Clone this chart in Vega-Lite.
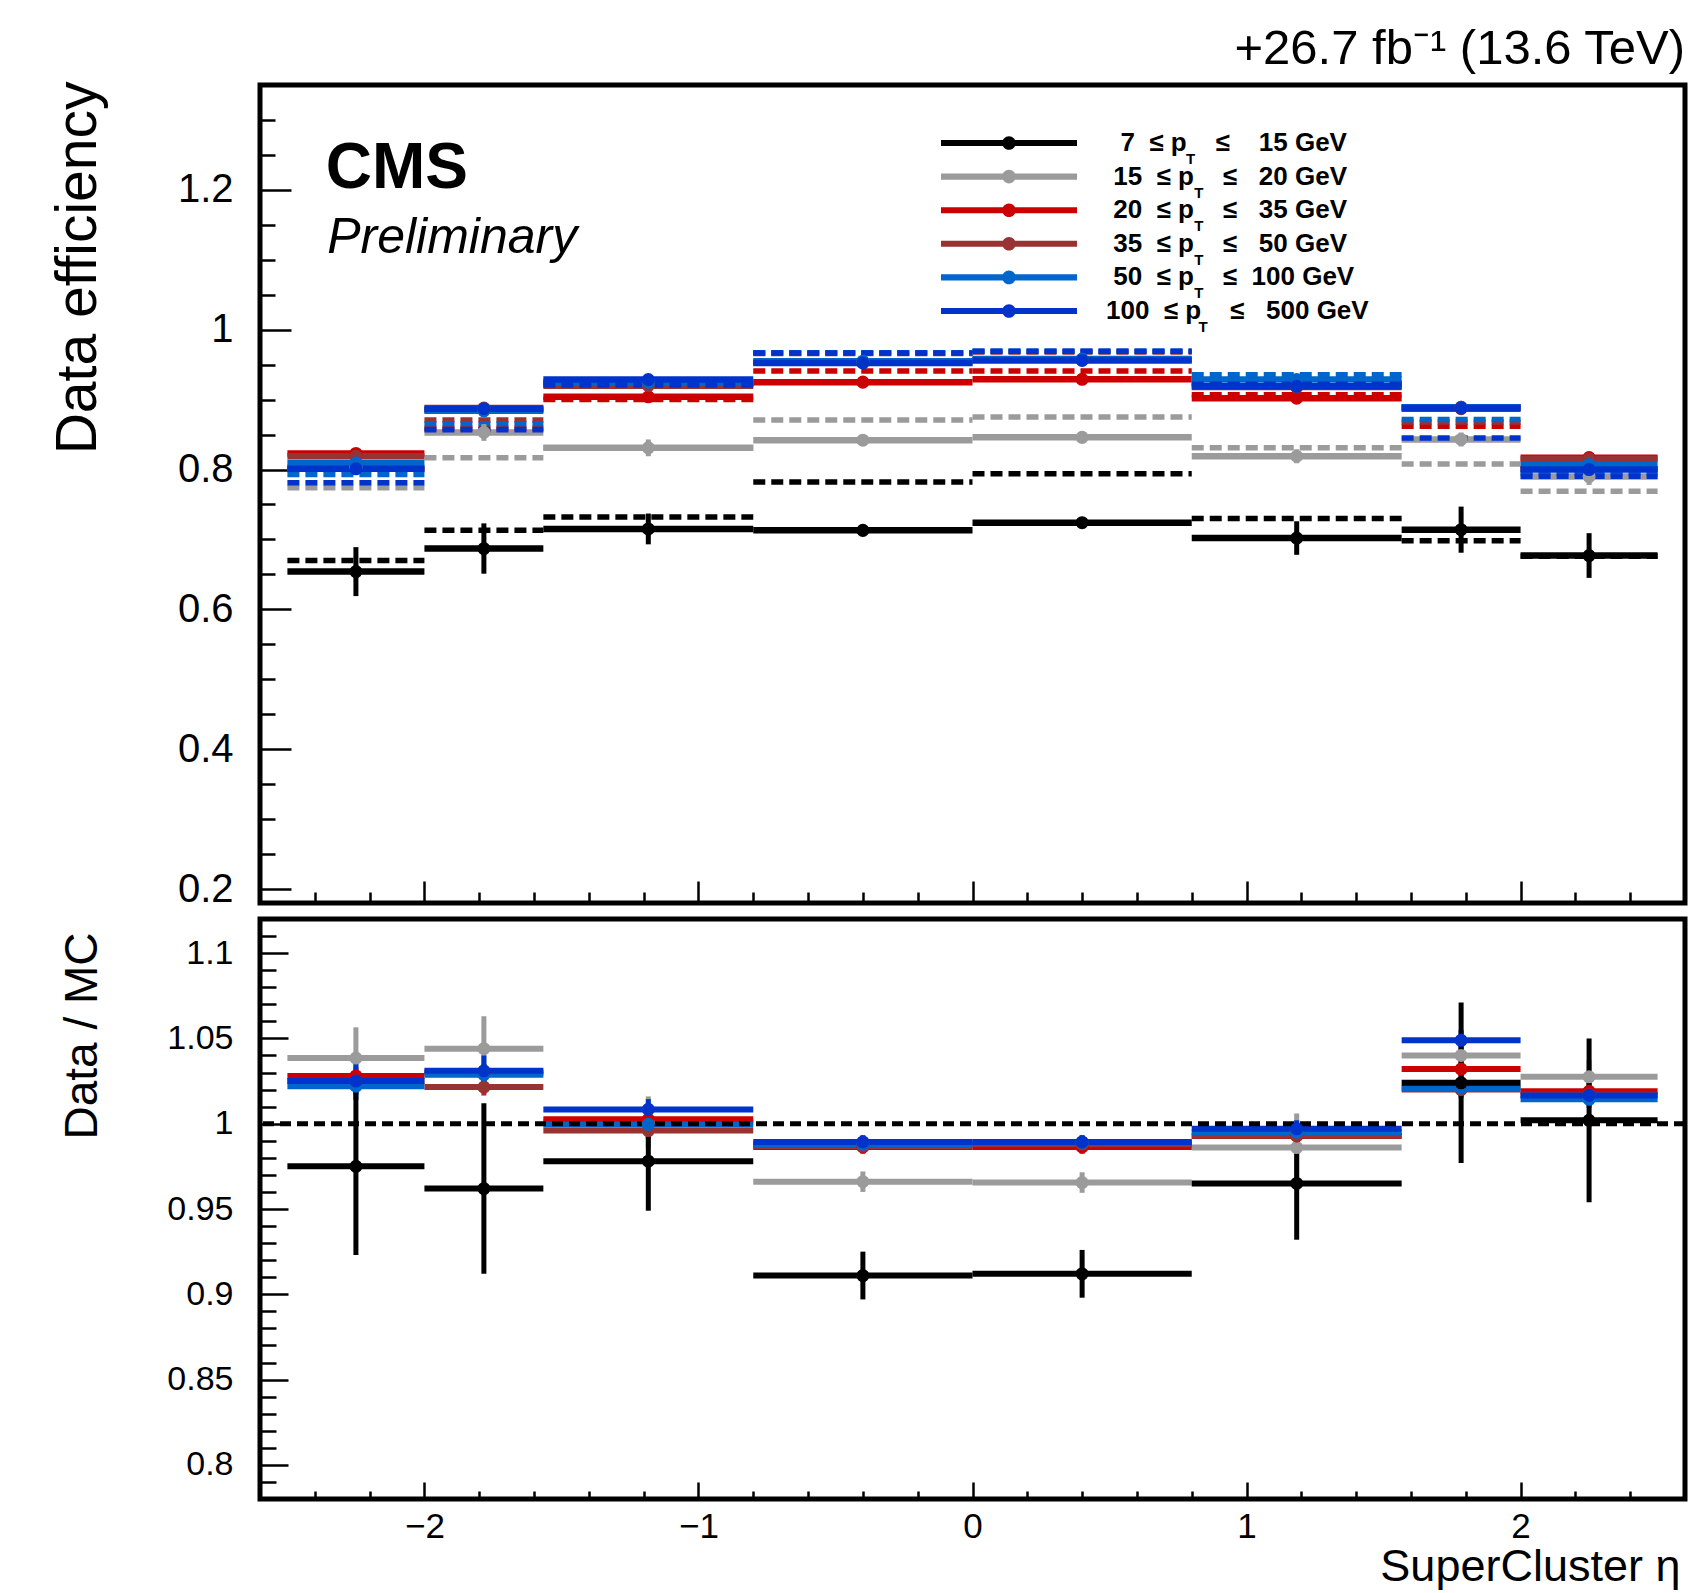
{
  "$schema": "https://vega.github.io/schema/vega-lite/v6.json",
  "autosize": {"type": "pad"},
  "padding": {"left": 46, "top": 22, "right": 0, "bottom": 0},
  "background": "white",
  "config": {
    "font": "Liberation Sans",
    "view": {"stroke": "black", "strokeWidth": 5},
    "axis": {"domain": false, "grid": false, "labelColor": "black", "titleColor": "black", "tickColor": "black", "tickWidth": 2.5, "labelFont": "Liberation Sans", "titleFont": "Liberation Sans", "titleFontWeight": "normal", "labelFlush": false, "labelOverlap": false, "labelBound": false}
  },
  "datasets": {
    "eff": [
      {"s":"15-20","k":"MC","lo":-2.5,"hi":-2,"eta":-2.25,"v":0.774,"e":0},
      {"s":"15-20","k":"MC","lo":-2,"hi":-1.566,"eta":-1.783,"v":0.817,"e":0},
      {"s":"15-20","k":"MC","lo":-1.566,"hi":-0.8,"eta":-1.183,"v":0.831,"e":0},
      {"s":"15-20","k":"MC","lo":-0.8,"hi":0,"eta":-0.4,"v":0.871,"e":0},
      {"s":"15-20","k":"MC","lo":0,"hi":0.8,"eta":0.4,"v":0.875,"e":0},
      {"s":"15-20","k":"MC","lo":0.8,"hi":1.566,"eta":1.183,"v":0.831,"e":0},
      {"s":"15-20","k":"MC","lo":1.566,"hi":2,"eta":1.783,"v":0.808,"e":0},
      {"s":"15-20","k":"MC","lo":2,"hi":2.5,"eta":2.25,"v":0.769,"e":0},
      {"s":"15-20","k":"Data","lo":-2.5,"hi":-2,"eta":-2.25,"v":0.803,"e":0.01},
      {"s":"15-20","k":"Data","lo":-2,"hi":-1.566,"eta":-1.783,"v":0.853,"e":0.012},
      {"s":"15-20","k":"Data","lo":-1.566,"hi":-0.8,"eta":-1.183,"v":0.831,"e":0.012},
      {"s":"15-20","k":"Data","lo":-0.8,"hi":0,"eta":-0.4,"v":0.842,"e":0.005},
      {"s":"15-20","k":"Data","lo":0,"hi":0.8,"eta":0.4,"v":0.846,"e":0.005},
      {"s":"15-20","k":"Data","lo":0.8,"hi":1.566,"eta":1.183,"v":0.819,"e":0.01},
      {"s":"15-20","k":"Data","lo":1.566,"hi":2,"eta":1.783,"v":0.843,"e":0.01},
      {"s":"15-20","k":"Data","lo":2,"hi":2.5,"eta":2.25,"v":0.790,"e":0.012},
      {"s":"20-35","k":"MC","lo":-2.5,"hi":-2,"eta":-2.25,"v":0.801,"e":0},
      {"s":"20-35","k":"MC","lo":-2,"hi":-1.566,"eta":-1.783,"v":0.859,"e":0},
      {"s":"20-35","k":"MC","lo":-1.566,"hi":-0.8,"eta":-1.183,"v":0.900,"e":0},
      {"s":"20-35","k":"MC","lo":-0.8,"hi":0,"eta":-0.4,"v":0.941,"e":0},
      {"s":"20-35","k":"MC","lo":0,"hi":0.8,"eta":0.4,"v":0.941,"e":0},
      {"s":"20-35","k":"MC","lo":0.8,"hi":1.566,"eta":1.183,"v":0.907,"e":0},
      {"s":"20-35","k":"MC","lo":1.566,"hi":2,"eta":1.783,"v":0.862,"e":0},
      {"s":"20-35","k":"MC","lo":2,"hi":2.5,"eta":2.25,"v":0.801,"e":0},
      {"s":"20-35","k":"Data","lo":-2.5,"hi":-2,"eta":-2.25,"v":0.823,"e":0.004},
      {"s":"20-35","k":"Data","lo":-2,"hi":-1.566,"eta":-1.783,"v":0.885,"e":0.004},
      {"s":"20-35","k":"Data","lo":-1.566,"hi":-0.8,"eta":-1.183,"v":0.904,"e":0.004},
      {"s":"20-35","k":"Data","lo":-0.8,"hi":0,"eta":-0.4,"v":0.925,"e":0.003},
      {"s":"20-35","k":"Data","lo":0,"hi":0.8,"eta":0.4,"v":0.929,"e":0.003},
      {"s":"20-35","k":"Data","lo":0.8,"hi":1.566,"eta":1.183,"v":0.902,"e":0.004},
      {"s":"20-35","k":"Data","lo":1.566,"hi":2,"eta":1.783,"v":0.889,"e":0.004},
      {"s":"20-35","k":"Data","lo":2,"hi":2.5,"eta":2.25,"v":0.817,"e":0.004},
      {"s":"35-50","k":"MC","lo":-2.5,"hi":-2,"eta":-2.25,"v":0.800,"e":0},
      {"s":"35-50","k":"MC","lo":-2,"hi":-1.566,"eta":-1.783,"v":0.871,"e":0},
      {"s":"35-50","k":"MC","lo":-1.566,"hi":-0.8,"eta":-1.183,"v":0.923,"e":0},
      {"s":"35-50","k":"MC","lo":-0.8,"hi":0,"eta":-0.4,"v":0.966,"e":0},
      {"s":"35-50","k":"MC","lo":0,"hi":0.8,"eta":0.4,"v":0.968,"e":0},
      {"s":"35-50","k":"MC","lo":0.8,"hi":1.566,"eta":1.183,"v":0.924,"e":0},
      {"s":"35-50","k":"MC","lo":1.566,"hi":2,"eta":1.783,"v":0.868,"e":0},
      {"s":"35-50","k":"MC","lo":2,"hi":2.5,"eta":2.25,"v":0.800,"e":0},
      {"s":"35-50","k":"Data","lo":-2.5,"hi":-2,"eta":-2.25,"v":0.819,"e":0.004},
      {"s":"35-50","k":"Data","lo":-2,"hi":-1.566,"eta":-1.783,"v":0.888,"e":0.004},
      {"s":"35-50","k":"Data","lo":-1.566,"hi":-0.8,"eta":-1.183,"v":0.920,"e":0.004},
      {"s":"35-50","k":"Data","lo":-0.8,"hi":0,"eta":-0.4,"v":0.953,"e":0.003},
      {"s":"35-50","k":"Data","lo":0,"hi":0.8,"eta":0.4,"v":0.957,"e":0.003},
      {"s":"35-50","k":"Data","lo":0.8,"hi":1.566,"eta":1.183,"v":0.918,"e":0.004},
      {"s":"35-50","k":"Data","lo":1.566,"hi":2,"eta":1.783,"v":0.887,"e":0.004},
      {"s":"35-50","k":"Data","lo":2,"hi":2.5,"eta":2.25,"v":0.815,"e":0.004},
      {"s":"50-100","k":"MC","lo":-2.5,"hi":-2,"eta":-2.25,"v":0.793,"e":0},
      {"s":"50-100","k":"MC","lo":-2,"hi":-1.566,"eta":-1.783,"v":0.8655,"e":0},
      {"s":"50-100","k":"MC","lo":-1.566,"hi":-0.8,"eta":-1.183,"v":0.922,"e":0},
      {"s":"50-100","k":"MC","lo":-0.8,"hi":0,"eta":-0.4,"v":0.967,"e":0},
      {"s":"50-100","k":"MC","lo":0,"hi":0.8,"eta":0.4,"v":0.969,"e":0},
      {"s":"50-100","k":"MC","lo":0.8,"hi":1.566,"eta":1.183,"v":0.9357,"e":0},
      {"s":"50-100","k":"MC","lo":1.566,"hi":2,"eta":1.783,"v":0.8714,"e":0},
      {"s":"50-100","k":"MC","lo":2,"hi":2.5,"eta":2.25,"v":0.795,"e":0},
      {"s":"50-100","k":"Data","lo":-2.5,"hi":-2,"eta":-2.25,"v":0.8095,"e":0.004},
      {"s":"50-100","k":"Data","lo":-2,"hi":-1.566,"eta":-1.783,"v":0.884,"e":0.004},
      {"s":"50-100","k":"Data","lo":-1.566,"hi":-0.8,"eta":-1.183,"v":0.925,"e":0.004},
      {"s":"50-100","k":"Data","lo":-0.8,"hi":0,"eta":-0.4,"v":0.955,"e":0.003},
      {"s":"50-100","k":"Data","lo":0,"hi":0.8,"eta":0.4,"v":0.958,"e":0.003},
      {"s":"50-100","k":"Data","lo":0.8,"hi":1.566,"eta":1.183,"v":0.9286,"e":0.004},
      {"s":"50-100","k":"Data","lo":1.566,"hi":2,"eta":1.783,"v":0.889,"e":0.004},
      {"s":"50-100","k":"Data","lo":2,"hi":2.5,"eta":2.25,"v":0.807,"e":0.004},
      {"s":"100-500","k":"MC","lo":-2.5,"hi":-2,"eta":-2.25,"v":0.781,"e":0},
      {"s":"100-500","k":"MC","lo":-2,"hi":-1.566,"eta":-1.783,"v":0.857,"e":0},
      {"s":"100-500","k":"MC","lo":-1.566,"hi":-0.8,"eta":-1.183,"v":0.921,"e":0},
      {"s":"100-500","k":"MC","lo":-0.8,"hi":0,"eta":-0.4,"v":0.9667,"e":0},
      {"s":"100-500","k":"MC","lo":0,"hi":0.8,"eta":0.4,"v":0.969,"e":0},
      {"s":"100-500","k":"MC","lo":0.8,"hi":1.566,"eta":1.183,"v":0.922,"e":0},
      {"s":"100-500","k":"MC","lo":1.566,"hi":2,"eta":1.783,"v":0.845,"e":0},
      {"s":"100-500","k":"MC","lo":2,"hi":2.5,"eta":2.25,"v":0.7905,"e":0},
      {"s":"100-500","k":"Data","lo":-2.5,"hi":-2,"eta":-2.25,"v":0.801,"e":0.004},
      {"s":"100-500","k":"Data","lo":-2,"hi":-1.566,"eta":-1.783,"v":0.887,"e":0.004},
      {"s":"100-500","k":"Data","lo":-1.566,"hi":-0.8,"eta":-1.183,"v":0.9286,"e":0.004},
      {"s":"100-500","k":"Data","lo":-0.8,"hi":0,"eta":-0.4,"v":0.9524,"e":0.003},
      {"s":"100-500","k":"Data","lo":0,"hi":0.8,"eta":0.4,"v":0.956,"e":0.003},
      {"s":"100-500","k":"Data","lo":0.8,"hi":1.566,"eta":1.183,"v":0.919,"e":0.004},
      {"s":"100-500","k":"Data","lo":1.566,"hi":2,"eta":1.783,"v":0.888,"e":0.004},
      {"s":"100-500","k":"Data","lo":2,"hi":2.5,"eta":2.25,"v":0.800,"e":0.004},
      {"s":"7-15","k":"MC","lo":-2.5,"hi":-2,"eta":-2.25,"v":0.670,"e":0},
      {"s":"7-15","k":"MC","lo":-2,"hi":-1.566,"eta":-1.783,"v":0.713,"e":0},
      {"s":"7-15","k":"MC","lo":-1.566,"hi":-0.8,"eta":-1.183,"v":0.732,"e":0},
      {"s":"7-15","k":"MC","lo":-0.8,"hi":0,"eta":-0.4,"v":0.782,"e":0},
      {"s":"7-15","k":"MC","lo":0,"hi":0.8,"eta":0.4,"v":0.794,"e":0},
      {"s":"7-15","k":"MC","lo":0.8,"hi":1.566,"eta":1.183,"v":0.730,"e":0},
      {"s":"7-15","k":"MC","lo":1.566,"hi":2,"eta":1.783,"v":0.698,"e":0},
      {"s":"7-15","k":"MC","lo":2,"hi":2.5,"eta":2.25,"v":0.676,"e":0},
      {"s":"7-15","k":"Data","lo":-2.5,"hi":-2,"eta":-2.25,"v":0.654,"e":0.035},
      {"s":"7-15","k":"Data","lo":-2,"hi":-1.566,"eta":-1.783,"v":0.687,"e":0.036},
      {"s":"7-15","k":"Data","lo":-1.566,"hi":-0.8,"eta":-1.183,"v":0.715,"e":0.022},
      {"s":"7-15","k":"Data","lo":-0.8,"hi":0,"eta":-0.4,"v":0.713,"e":0.006},
      {"s":"7-15","k":"Data","lo":0,"hi":0.8,"eta":0.4,"v":0.724,"e":0.006},
      {"s":"7-15","k":"Data","lo":0.8,"hi":1.566,"eta":1.183,"v":0.702,"e":0.024},
      {"s":"7-15","k":"Data","lo":1.566,"hi":2,"eta":1.783,"v":0.714,"e":0.033},
      {"s":"7-15","k":"Data","lo":2,"hi":2.5,"eta":2.25,"v":0.677,"e":0.032}
    ],
    "ratio": [
      {"s":"15-20","lo":-2.5,"hi":-2,"eta":-2.25,"r":1.0385,"e":0.018},
      {"s":"15-20","lo":-2,"hi":-1.566,"eta":-1.783,"r":1.044,"e":0.019},
      {"s":"15-20","lo":-1.566,"hi":-0.8,"eta":-1.183,"r":1.001,"e":0.015},
      {"s":"15-20","lo":-0.8,"hi":0,"eta":-0.4,"r":0.966,"e":0.006},
      {"s":"15-20","lo":0,"hi":0.8,"eta":0.4,"r":0.9655,"e":0.006},
      {"s":"15-20","lo":0.8,"hi":1.566,"eta":1.183,"r":0.986,"e":0.02},
      {"s":"15-20","lo":1.566,"hi":2,"eta":1.783,"r":1.040,"e":0.01},
      {"s":"15-20","lo":2,"hi":2.5,"eta":2.25,"r":1.0275,"e":0.01},
      {"s":"20-35","lo":-2.5,"hi":-2,"eta":-2.25,"r":1.028,"e":0.005},
      {"s":"20-35","lo":-2,"hi":-1.566,"eta":-1.783,"r":1.030,"e":0.005},
      {"s":"20-35","lo":-1.566,"hi":-0.8,"eta":-1.183,"r":1.0026,"e":0.005},
      {"s":"20-35","lo":-0.8,"hi":0,"eta":-0.4,"r":0.9864,"e":0.004},
      {"s":"20-35","lo":0,"hi":0.8,"eta":0.4,"r":0.9864,"e":0.004},
      {"s":"20-35","lo":0.8,"hi":1.566,"eta":1.183,"r":0.9928,"e":0.005},
      {"s":"20-35","lo":1.566,"hi":2,"eta":1.783,"r":1.032,"e":0.005},
      {"s":"20-35","lo":2,"hi":2.5,"eta":2.25,"r":1.019,"e":0.005},
      {"s":"35-50","lo":-2.5,"hi":-2,"eta":-2.25,"r":1.025,"e":0.005},
      {"s":"35-50","lo":-2,"hi":-1.566,"eta":-1.783,"r":1.0215,"e":0.005},
      {"s":"35-50","lo":-1.566,"hi":-0.8,"eta":-1.183,"r":0.996,"e":0.005},
      {"s":"35-50","lo":-0.8,"hi":0,"eta":-0.4,"r":0.987,"e":0.004},
      {"s":"35-50","lo":0,"hi":0.8,"eta":0.4,"r":0.988,"e":0.004},
      {"s":"35-50","lo":0.8,"hi":1.566,"eta":1.183,"r":0.993,"e":0.005},
      {"s":"35-50","lo":1.566,"hi":2,"eta":1.783,"r":1.020,"e":0.005},
      {"s":"35-50","lo":2,"hi":2.5,"eta":2.25,"r":1.017,"e":0.005},
      {"s":"50-100","lo":-2.5,"hi":-2,"eta":-2.25,"r":1.022,"e":0.005},
      {"s":"50-100","lo":-2,"hi":-1.566,"eta":-1.783,"r":1.0287,"e":0.005},
      {"s":"50-100","lo":-1.566,"hi":-0.8,"eta":-1.183,"r":0.9996,"e":0.005},
      {"s":"50-100","lo":-0.8,"hi":0,"eta":-0.4,"r":0.988,"e":0.004},
      {"s":"50-100","lo":0,"hi":0.8,"eta":0.4,"r":0.989,"e":0.004},
      {"s":"50-100","lo":0.8,"hi":1.566,"eta":1.183,"r":0.995,"e":0.005},
      {"s":"50-100","lo":1.566,"hi":2,"eta":1.783,"r":1.021,"e":0.005},
      {"s":"50-100","lo":2,"hi":2.5,"eta":2.25,"r":1.0143,"e":0.005},
      {"s":"100-500","lo":-2.5,"hi":-2,"eta":-2.25,"r":1.025,"e":0.011},
      {"s":"100-500","lo":-2,"hi":-1.566,"eta":-1.783,"r":1.031,"e":0.009},
      {"s":"100-500","lo":-1.566,"hi":-0.8,"eta":-1.183,"r":1.0084,"e":0.006},
      {"s":"100-500","lo":-0.8,"hi":0,"eta":-0.4,"r":0.9893,"e":0.004},
      {"s":"100-500","lo":0,"hi":0.8,"eta":0.4,"r":0.9893,"e":0.004},
      {"s":"100-500","lo":0.8,"hi":1.566,"eta":1.183,"r":0.997,"e":0.005},
      {"s":"100-500","lo":1.566,"hi":2,"eta":1.783,"r":1.0489,"e":0.006},
      {"s":"100-500","lo":2,"hi":2.5,"eta":2.25,"r":1.0166,"e":0.006},
      {"s":"7-15","lo":-2.5,"hi":-2,"eta":-2.25,"r":0.975,"e":0.052},
      {"s":"7-15","lo":-2,"hi":-1.566,"eta":-1.783,"r":0.962,"e":0.05},
      {"s":"7-15","lo":-1.566,"hi":-0.8,"eta":-1.183,"r":0.978,"e":0.029},
      {"s":"7-15","lo":-0.8,"hi":0,"eta":-0.4,"r":0.911,"e":0.014},
      {"s":"7-15","lo":0,"hi":0.8,"eta":0.4,"r":0.912,"e":0.014},
      {"s":"7-15","lo":0.8,"hi":1.566,"eta":1.183,"r":0.965,"e":0.033},
      {"s":"7-15","lo":1.566,"hi":2,"eta":1.783,"r":1.024,"e":0.047},
      {"s":"7-15","lo":2,"hi":2.5,"eta":2.25,"r":1.002,"e":0.048}
    ]
  },
  "spacing": 4,
  "resolve": {"scale": {"color": "independent", "stroke": "independent", "fill": "independent", "shape": "independent", "strokeDash": "independent", "strokeWidth": "independent"}},
  "vconcat": [
    {
      "width": 1425,
      "height": 818,
      "data": {"name": "eff"},
      "title": {"text": "+26.7 fb⁻¹ (13.6 TeV)", "anchor": "end", "frame": "group", "fontSize": 49, "fontWeight": "normal", "font": "Liberation Sans", "color": "black", "baseline": "alphabetic", "offset": -32},
      "layer": [
        {
          "mark": {"type": "rule"},
          "encoding": {
            "x": {"field": "lo", "type": "quantitative", "title": null, "scale": {"domain": [-2.6, 2.6], "nice": false, "zero": false},
              "axis": {"orient": "bottom", "title": null, "labels": false, "labelOverlap": false, "tickCount": 200,
                "values": [-2.4,-2.2,-2,-1.8,-1.6,-1.4,-1.2,-1,-0.8,-0.6,-0.4,-0.2,0,0.2,0.4,0.6,0.8,1,1.2,1.4,1.6,1.8,2,2.2,2.4],
                "tickSize": {"condition": {"test": "abs(datum.value - round(datum.value)) < 0.001", "value": -22}, "value": -11}}},
            "x2": {"field": "hi"},
            "y": {"field": "v", "type": "quantitative", "title": "Data efficiency", "scale": {"domain": [0.18, 1.35], "nice": false, "zero": false},
              "axis": {"orient": "left", "labelOverlap": false, "tickCount": 200,
                "values": [0.2,0.25,0.3,0.35,0.4,0.45,0.5,0.55,0.6,0.65,0.7,0.75,0.8,0.85,0.9,0.95,1,1.05,1.1,1.15,1.2,1.25,1.3],
                "labelExpr": "abs(datum.value*5 - round(datum.value*5)) < 0.001 ? format(datum.value, '~g') : ''",
                "tickSize": {"condition": {"test": "abs(datum.value*5 - round(datum.value*5)) < 0.001", "value": -31}, "value": -15},
                "labelFontSize": 40, "labelPadding": 58,
                "titleFontSize": 57, "titleAngle": 270, "titleAlign": "right", "titleAnchor": "end", "titleBaseline": "alphabetic", "titleX": -165, "titleY": -4}},
            "stroke": {"field": "s", "type": "nominal", "legend": null,
              "scale": {"domain": ["7-15","15-20","20-35","35-50","50-100","100-500","~"], "range": ["#000000","#9b9b9b","#cc0000","#993333","#0066cc","#0033cc","#ffffff"]}},
            "strokeDash": {"field": "k", "type": "nominal", "legend": null, "scale": {"domain": ["Data","MC"], "range": [[1,0],[12,6]]}},
            "strokeWidth": {"field": "k", "type": "ordinal", "legend": null, "scale": {"domain": ["Data","MC"], "range": [6.5,5.5]}}
          }
        },
        {
          "transform": [{"filter": "datum.k == 'Data'"}],
          "mark": {"type": "errorbar", "thickness": 5, "ticks": false},
          "encoding": {
            "x": {"field": "eta", "type": "quantitative", "title": null},
            "y": {"field": "v", "type": "quantitative", "title": "Data efficiency"},
            "yError": {"field": "e"},
            "color": {"field": "s", "type": "nominal", "legend": null,
              "scale": {"domain": ["7-15","15-20","20-35","35-50","50-100","100-500","~"], "range": ["#000000","#9b9b9b","#cc0000","#993333","#0066cc","#0033cc","#ffffff"]}}
          }
        },
        {
          "transform": [{"filter": "datum.k == 'Data'"}],
          "mark": {"type": "point", "filled": true, "opacity": 1, "size": 170},
          "encoding": {
            "x": {"field": "eta", "type": "quantitative", "title": null},
            "y": {"field": "v", "type": "quantitative", "title": "Data efficiency"},
            "fill": {"field": "s", "type": "nominal",
              "scale": {"domain": ["7-15","15-20","20-35","35-50","50-100","100-500"], "range": ["#000000","#9b9b9b","#cc0000","#993333","#0066cc","#0033cc"]},
              "legend": {"orient": "none", "legendX": 681, "legendY": 43, "direction": "vertical", "title": null, "padding": 0,
                "symbolType": "M-1,-0.045H1V0.045H-1Z M0.1,0A0.1,0.1,0,1,1,-0.1,0A0.1,0.1,0,1,1,0.1,0Z",
                "symbolSize": 18496, "symbolStrokeWidth": 0, "symbolOpacity": 1,
                "labelFont": "Liberation Sans", "labelFontSize": 26, "labelFontWeight": "bold", "labelColor": "black", "labelLimit": 600, "labelOffset": 29,
                "rowPadding": 3.6, "clipHeight": 30,
                "labelExpr": "datum.label == '7-15' ? '\u200b\u00a0\u00a07\u00a0\u00a0≤\u00a0p\u00a0\u00a0\u00a0\u00a0≤\u00a0\u00a0\u00a0\u00a015\u00a0GeV' : datum.label == '15-20' ? '\u200b\u00a015\u00a0\u00a0≤\u00a0p\u00a0\u00a0\u00a0\u00a0≤\u00a0\u00a0\u00a020\u00a0GeV' : datum.label == '20-35' ? '\u200b\u00a020\u00a0\u00a0≤\u00a0p\u00a0\u00a0\u00a0\u00a0≤\u00a0\u00a0\u00a035\u00a0GeV' : datum.label == '35-50' ? '\u200b\u00a035\u00a0\u00a0≤\u00a0p\u00a0\u00a0\u00a0\u00a0≤\u00a0\u00a0\u00a050\u00a0GeV' : datum.label == '50-100' ? '\u200b\u00a050\u00a0\u00a0≤\u00a0p\u00a0\u00a0\u00a0\u00a0≤\u00a0\u00a0100\u00a0GeV' : '100\u00a0\u00a0≤\u00a0p\u00a0\u00a0\u00a0\u00a0≤\u00a0\u00a0\u00a0500\u00a0GeV'"}},
            "shape": {"field": "s", "type": "nominal",
              "scale": {"domain": ["7-15","15-20","20-35","35-50","50-100","100-500","_"], "range": ["circle","circle","circle","circle","circle","circle","circle"]},
              "legend": {"orient": "none", "legendX": 911, "legendY": 59, "direction": "vertical", "title": null, "padding": 0,
                "symbolSize": 4, "symbolOpacity": 0, "symbolStrokeWidth": 0,
                "labelFont": "Liberation Sans", "labelFontSize": 15, "labelFontWeight": "bold", "labelColor": "black", "labelOffset": 0,
                "rowPadding": 3.6, "clipHeight": 30,
                "labelExpr": "datum.label == '_' ? '' : datum.label == '7-15' ? 'T' : datum.label == '100-500' ? '\u200b\u00a0\u00a0\u00a0T' : '\u200b\u00a0\u00a0T'"}}
          }
        },
        {
          "data": {"values": [{}]},
          "mark": {"type": "text", "text": "CMS", "font": "Liberation Sans", "fontSize": 64, "fontWeight": "bold", "align": "left", "baseline": "alphabetic", "color": "black"},
          "encoding": {"x": {"datum": -2.36}, "y": {"datum": 1.202}}
        },
        {
          "data": {"values": [{}]},
          "mark": {"type": "text", "text": "Preliminary", "font": "Liberation Sans", "fontSize": 50, "fontStyle": "italic", "align": "left", "baseline": "alphabetic", "color": "black"},
          "encoding": {"x": {"datum": -2.355}, "y": {"datum": 1.11}}
        }
      ]
    },
    {
      "width": 1425,
      "height": 580,
      "data": {"name": "ratio"},
      "layer": [
        {
          "mark": {"type": "rule", "strokeWidth": 6},
          "encoding": {
            "x": {"field": "lo", "type": "quantitative", "title": "SuperCluster η", "scale": {"domain": [-2.6, 2.6], "nice": false, "zero": false},
              "axis": {"orient": "bottom", "labelOverlap": false, "tickCount": 200,
                "values": [-2.4,-2.2,-2,-1.8,-1.6,-1.4,-1.2,-1,-0.8,-0.6,-0.4,-0.2,0,0.2,0.4,0.6,0.8,1,1.2,1.4,1.6,1.8,2,2.2,2.4],
                "labelExpr": "abs(datum.value - round(datum.value)) < 0.001 ? format(datum.value, 'd') : ''",
                "tickSize": {"condition": {"test": "abs(datum.value - round(datum.value)) < 0.001", "value": -17}, "value": -8},
                "labelFontSize": 35, "labelPadding": 27,
                "titleFontSize": 45, "titleAnchor": "end", "titleAlign": "right", "titleBaseline": "alphabetic", "titleX": 1420, "titleY": 81}},
            "x2": {"field": "hi"},
            "y": {"field": "r", "type": "quantitative", "title": "Data / MC", "scale": {"domain": [0.78, 1.12], "nice": false, "zero": false},
              "axis": {"orient": "left", "labelOverlap": false, "tickCount": 200,
                "values": [0.79,0.8,0.81,0.82,0.83,0.84,0.85,0.86,0.87,0.88,0.89,0.9,0.91,0.92,0.93,0.94,0.95,0.96,0.97,0.98,0.99,1,1.01,1.02,1.03,1.04,1.05,1.06,1.07,1.08,1.09,1.1,1.11],
                "labelExpr": "abs(datum.value*20 - round(datum.value*20)) < 0.001 ? format(datum.value, '~g') : ''",
                "tickSize": {"condition": {"test": "abs(datum.value*20 - round(datum.value*20)) < 0.001", "value": -28}, "value": -16},
                "labelFontSize": 34, "labelPadding": 55,
                "titleFontSize": 46, "titleAngle": 270, "titleAlign": "right", "titleAnchor": "end", "titleBaseline": "alphabetic", "titleX": -164, "titleY": 13}},
            "stroke": {"field": "s", "type": "nominal", "legend": null,
              "scale": {"domain": ["7-15","15-20","20-35","35-50","50-100","100-500"], "range": ["#000000","#9b9b9b","#cc0000","#993333","#0066cc","#0033cc"]}}
          }
        },
        {
          "mark": {"type": "errorbar", "thickness": 5, "ticks": false},
          "encoding": {
            "x": {"field": "eta", "type": "quantitative", "title": "SuperCluster η"},
            "y": {"field": "r", "type": "quantitative", "title": "Data / MC"},
            "yError": {"field": "e"},
            "color": {"field": "s", "type": "nominal", "legend": null,
              "scale": {"domain": ["7-15","15-20","20-35","35-50","50-100","100-500"], "range": ["#000000","#9b9b9b","#cc0000","#993333","#0066cc","#0033cc"]}}
          }
        },
        {
          "data": {"values": [{}]},
          "mark": {"type": "rule", "strokeDash": [11, 6], "strokeWidth": 5, "color": "black"},
          "encoding": {"y": {"datum": 1, "title": "Data / MC"}}
        },
        {
          "mark": {"type": "point", "filled": true, "opacity": 1, "size": 170},
          "encoding": {
            "x": {"field": "eta", "type": "quantitative", "title": "SuperCluster η"},
            "y": {"field": "r", "type": "quantitative", "title": "Data / MC"},
            "fill": {"field": "s", "type": "nominal", "legend": null,
              "scale": {"domain": ["7-15","15-20","20-35","35-50","50-100","100-500"], "range": ["#000000","#9b9b9b","#cc0000","#993333","#0066cc","#0033cc"]}}
          }
        }
      ]
    }
  ]
}
